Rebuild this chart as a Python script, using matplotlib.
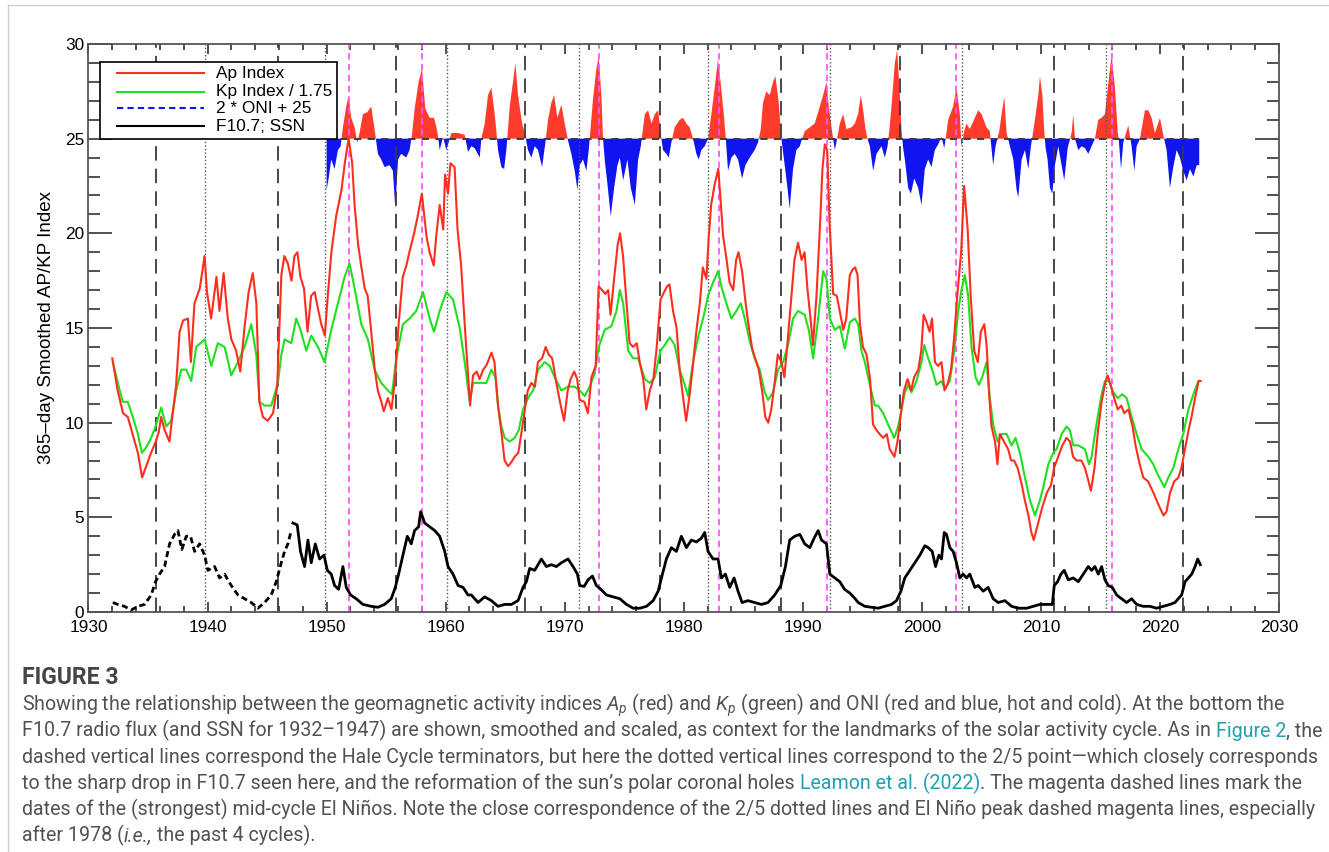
import matplotlib
matplotlib.use("Agg")
import matplotlib.pyplot as plt
from matplotlib import font_manager
from matplotlib.lines import Line2D
from matplotlib.patches import Rectangle
from matplotlib.ticker import MultipleLocator
import numpy as np

# ---- data ----
# Ap index (365-day smoothed)
ap_years = [1932.0, 1932.45, 1932.9, 1933.3, 1933.7, 1934.15, 1934.5, 1934.85, 1935.25, 1935.65,
            1935.9, 1936.1, 1936.4, 1936.8, 1937.0, 1937.35, 1937.65, 1937.95, 1938.35, 1938.6,
            1938.9, 1939.35, 1939.75, 1939.95, 1940.3, 1940.75, 1941.0, 1941.35, 1941.7, 1942.0,
            1942.4, 1942.75, 1943.1, 1943.45, 1943.8, 1944.1, 1944.35, 1944.65, 1945.05, 1945.5,
            1945.85, 1946.2, 1946.45, 1946.75, 1947.05, 1947.3, 1947.55, 1947.8, 1948.1, 1948.4,
            1948.7, 1949.0, 1949.25, 1949.55, 1949.85, 1950.1, 1950.4, 1950.8, 1951.25, 1951.55,
            1951.85, 1952.15, 1952.35, 1952.65, 1952.9, 1953.2, 1953.45, 1953.75, 1954.05, 1954.3,
            1954.6, 1954.8, 1955.15, 1955.45, 1955.75, 1956.05, 1956.4, 1956.7, 1956.95, 1957.35,
            1957.65, 1958.0, 1958.4, 1958.65, 1959.0, 1959.2, 1959.5, 1959.8, 1959.95, 1960.2,
            1960.4, 1960.75, 1961.0, 1961.3, 1961.6, 1961.85, 1962.05, 1962.3, 1962.6, 1962.85,
            1963.15, 1963.4, 1963.85, 1964.1, 1964.4, 1964.7, 1964.95, 1965.25, 1965.5, 1965.8,
            1966.1, 1966.35, 1966.7, 1966.9, 1967.2, 1967.5, 1967.75, 1968.1, 1968.4, 1968.65,
            1968.95, 1969.3, 1969.6, 1969.95, 1970.25, 1970.5, 1970.8, 1971.05, 1971.25, 1971.65,
            1971.95, 1972.25, 1972.6, 1972.85, 1973.15, 1973.4, 1973.65, 1973.85, 1974.15, 1974.45,
            1974.65, 1974.9, 1975.2, 1975.45, 1975.75, 1976.05, 1976.3, 1976.6, 1976.85, 1977.15,
            1977.45, 1977.7, 1978.05, 1978.35, 1978.6, 1978.8, 1979.1, 1979.4, 1979.65, 1979.95,
            1980.2, 1980.5, 1980.8, 1981.05, 1981.35, 1981.6, 1981.9, 1982.1, 1982.3, 1982.6,
            1982.9, 1983.1, 1983.3, 1983.6, 1983.85, 1984.15, 1984.4, 1984.6, 1984.9, 1985.2,
            1985.45, 1985.75, 1986.0, 1986.3, 1986.6, 1986.85, 1987.1, 1987.35, 1987.65, 1987.9,
            1988.2, 1988.45, 1988.7, 1989.05, 1989.3, 1989.6, 1989.9, 1990.15, 1990.4, 1990.65,
            1990.85, 1991.15, 1991.45, 1991.65, 1991.85, 1992.05, 1992.25, 1992.55, 1992.85, 1993.1,
            1993.4, 1993.65, 1993.95, 1994.2, 1994.4, 1994.6, 1994.8, 1995.05, 1995.35, 1995.65,
            1995.9, 1996.2, 1996.45, 1996.75, 1997.05, 1997.3, 1997.7, 1997.95, 1998.25, 1998.5,
            1998.8, 1999.1, 1999.35, 1999.7, 1999.95, 2000.15, 2000.4, 2000.65, 2000.85, 2001.1,
            2001.35, 2001.65, 2001.9, 2002.15, 2002.45, 2002.7, 2003.0, 2003.3, 2003.55, 2003.85,
            2004.1, 2004.4, 2004.7, 2004.95, 2005.25, 2005.45, 2005.65, 2005.85, 2006.15, 2006.35,
            2006.55, 2006.9, 2007.25, 2007.5, 2007.75, 2008.05, 2008.4, 2008.65, 2008.95, 2009.2,
            2009.4, 2009.65, 2010.1, 2010.5, 2010.85, 2011.1, 2011.45, 2011.8, 2012.15, 2012.45,
            2012.7, 2013.0, 2013.4, 2013.7, 2014.0, 2014.2, 2014.5, 2014.8, 2015.1, 2015.4,
            2015.6, 2015.9, 2016.15, 2016.45, 2016.75, 2017.0, 2017.35, 2017.7, 2017.95, 2018.3,
            2018.6, 2019.0, 2019.45, 2019.85, 2020.3, 2020.55, 2020.85, 2021.2, 2021.55, 2021.8,
            2022.1, 2022.4, 2022.65, 2022.95, 2023.25, 2023.4]
ap_vals = [13.4, 11.7, 10.5, 10.3, 9.4, 8.4, 7.1, 7.7, 8.4, 9.0,
           9.5, 10.3, 9.6, 9.0, 10.1, 11.9, 14.8, 15.4, 15.5, 13.2,
           16.3, 17.1, 18.8, 16.9, 15.5, 17.7, 15.9, 17.9, 15.5, 14.4,
           13.8, 12.7, 15.0, 16.9, 17.9, 16.3, 11.1, 10.3, 10.1, 10.5,
           11.9, 17.8, 18.8, 18.4, 17.5, 18.8, 19.0, 17.7, 17.1, 14.8,
           16.7, 16.9, 16.1, 15.2, 14.6, 16.7, 19.0, 20.9, 22.3, 23.8,
           25.0, 23.7, 21.5, 19.4, 18.3, 17.1, 16.7, 14.8, 12.8, 11.7,
           11.1, 10.6, 11.3, 10.7, 12.3, 15.2, 17.7, 18.3, 19.0, 20.0,
           20.9, 22.1, 19.8, 19.0, 18.3, 19.8, 21.5, 20.2, 23.1, 22.1,
           23.7, 23.5, 20.2, 18.3, 15.2, 12.8, 10.9, 12.5, 12.7, 12.3,
           12.8, 13.0, 13.7, 13.2, 10.9, 9.4, 8.0, 7.7, 7.9, 8.2,
           8.4, 9.4, 10.9, 11.7, 12.1, 11.9, 13.2, 13.4, 14.0, 13.6,
           13.4, 12.1, 11.1, 10.1, 11.7, 12.3, 12.7, 12.3, 11.2, 11.1,
           10.5, 12.4, 13.0, 17.2, 17.0, 16.8, 17.0, 15.7, 17.6, 19.4,
           20.0, 18.8, 16.3, 14.2, 14.0, 14.2, 13.2, 12.3, 10.7, 11.7,
           12.3, 13.8, 16.5, 16.9, 17.2, 17.3, 15.9, 15.0, 12.8, 11.3,
           10.1, 11.5, 13.2, 14.8, 16.3, 18.2, 17.6, 19.8, 21.5, 22.6,
           23.4, 21.7, 19.9, 18.6, 17.4, 17.0, 18.6, 19.0, 18.0, 16.3,
           15.1, 13.9, 13.4, 12.8, 11.6, 10.3, 10.0, 10.7, 12.2, 13.6,
           13.2, 12.4, 14.1, 16.7, 18.6, 19.5, 18.6, 19.0, 17.0, 15.5,
           14.1, 16.7, 20.5, 23.4, 24.7, 24.4, 20.5, 16.8, 16.7, 15.9,
           14.9, 15.5, 17.8, 18.1, 18.2, 17.8, 15.2, 14.0, 13.6, 12.3,
           9.9, 9.6, 9.4, 9.2, 9.4, 8.6, 8.2, 9.0, 10.5, 11.7,
           12.3, 11.7, 12.4, 12.8, 13.8, 15.7, 15.3, 14.8, 15.5, 13.2,
           13.0, 13.2, 11.7, 12.0, 12.8, 14.4, 16.9, 19.0, 22.5, 20.2,
           16.7, 13.8, 13.2, 14.8, 15.2, 14.0, 11.5, 9.8, 9.0, 7.8,
           9.4, 9.0, 8.6, 8.0, 8.0, 7.6, 6.7, 5.9, 5.1, 4.2,
           3.8, 4.4, 5.5, 6.3, 6.7, 7.6, 8.2, 8.8, 9.2, 9.0,
           8.2, 8.0, 8.0, 7.6, 6.9, 6.4, 7.6, 9.6, 11.1, 12.1,
           12.5, 11.9, 11.3, 10.7, 10.9, 10.5, 10.7, 9.8, 8.8, 7.8,
           7.1, 6.9, 6.3, 5.7, 5.1, 5.3, 6.3, 6.9, 7.1, 7.6,
           8.6, 9.6, 10.3, 11.3, 12.2, 12.2]

# Kp index / 1.75
kp_years = [1932.04, 1932.46, 1932.88, 1933.3, 1933.72, 1934.15, 1934.48, 1934.85, 1935.27, 1935.63,
            1936.11, 1936.53, 1936.95, 1937.37, 1937.79, 1938.21, 1938.63, 1939.05, 1939.75, 1940.31,
            1940.87, 1941.43, 1941.99, 1942.55, 1943.11, 1943.67, 1944.09, 1944.37, 1944.79, 1945.35,
            1945.91, 1946.2, 1946.47, 1947.03, 1947.45, 1947.81, 1948.29, 1948.71, 1949.27, 1949.83,
            1950.39, 1950.95, 1951.51, 1951.93, 1952.35, 1952.91, 1953.47, 1954.03, 1954.59, 1955.15,
            1955.49, 1955.85, 1956.41, 1956.97, 1957.53, 1958.1, 1958.66, 1959.02, 1959.5, 1960.06,
            1960.62, 1961.18, 1961.6, 1962.02, 1962.3, 1962.86, 1963.42, 1963.84, 1964.18, 1964.4,
            1964.68, 1964.96, 1965.38, 1965.8, 1966.14, 1966.5, 1966.92, 1967.34, 1967.76, 1968.32,
            1968.74, 1969.16, 1969.72, 1970.28, 1970.84, 1971.26, 1971.68, 1972.1, 1972.52, 1972.86,
            1973.36, 1973.92, 1974.35, 1974.63, 1974.91, 1975.33, 1975.75, 1976.17, 1976.73, 1977.15,
            1977.57, 1978.04, 1978.4, 1978.82, 1979.24, 1979.66, 1980.08, 1980.36, 1980.78, 1981.2,
            1981.62, 1982.04, 1982.46, 1982.88, 1983.16, 1983.58, 1984.0, 1984.42, 1984.79, 1985.12,
            1985.54, 1985.96, 1986.38, 1986.8, 1987.08, 1987.5, 1987.92, 1988.34, 1988.76, 1989.18,
            1989.6, 1990.16, 1990.5, 1990.87, 1991.29, 1991.71, 1991.99, 1992.27, 1992.69, 1993.11,
            1993.53, 1993.95, 1994.37, 1994.65, 1994.93, 1995.21, 1995.63, 1996.05, 1996.33, 1996.75,
            1997.17, 1997.68, 1998.01, 1998.29, 1998.57, 1998.85, 1999.13, 1999.55, 1999.97, 2000.2,
            2000.53, 2000.87, 2001.23, 2001.65, 2001.93, 2002.35, 2002.72, 2003.05, 2003.33, 2003.61,
            2003.89, 2004.17, 2004.51, 2004.79, 2005.07, 2005.43, 2005.71, 2005.99, 2006.36, 2006.7,
            2007.12, 2007.54, 2007.87, 2008.24, 2008.66, 2009.08, 2009.5, 2009.92, 2010.2, 2010.62,
            2011.04, 2011.32, 2011.74, 2012.16, 2012.44, 2012.72, 2013.14, 2013.7, 2014.04, 2014.26,
            2014.54, 2014.82, 2015.1, 2015.38, 2015.72, 2016.08, 2016.45, 2016.84, 2017.2, 2017.62,
            2018.04, 2018.46, 2019.02, 2019.44, 2019.86, 2020.37, 2020.7, 2021.12, 2021.54, 2021.96,
            2022.39, 2022.81, 2023.23, 2023.4]
kp_vals = [13.2, 12.1, 11.1, 11.1, 10.3, 9.4, 8.4, 8.7, 9.2, 9.8,
           10.8, 9.8, 10.1, 11.7, 12.8, 12.8, 12.2, 14.0, 14.4, 13.0,
           14.2, 14.0, 12.5, 13.2, 14.0, 15.2, 13.6, 11.1, 10.9, 10.9,
           12.1, 13.6, 14.4, 14.2, 15.5, 14.9, 13.8, 14.6, 14.0, 13.2,
           14.9, 16.3, 17.7, 18.4, 17.1, 15.2, 14.4, 12.8, 12.1, 11.7,
           11.5, 13.4, 15.2, 15.5, 15.9, 16.9, 15.5, 14.8, 15.9, 16.9,
           16.5, 15.0, 13.2, 11.1, 12.1, 12.1, 12.1, 12.8, 12.4, 10.9,
           9.8, 9.2, 9.0, 9.2, 9.6, 10.7, 11.3, 11.7, 12.8, 13.2,
           13.0, 12.4, 11.7, 11.9, 11.9, 11.7, 11.4, 11.9, 12.6, 14.0,
           14.9, 15.1, 15.9, 17.0, 16.3, 13.8, 13.4, 13.4, 12.3, 12.1,
           12.4, 13.8, 14.1, 14.5, 14.1, 12.8, 12.0, 11.4, 13.2, 14.5,
           15.5, 16.7, 17.4, 18.0, 17.2, 16.3, 15.5, 15.9, 16.3, 15.5,
           14.3, 13.4, 12.8, 11.6, 11.2, 11.6, 12.8, 13.2, 14.1, 15.5,
           15.9, 15.7, 14.9, 13.4, 15.5, 18.0, 17.6, 15.5, 14.9, 15.1,
           13.9, 15.3, 15.5, 15.2, 13.8, 13.2, 12.0, 10.9, 10.9, 10.5,
           9.9, 9.2, 9.8, 10.7, 11.6, 12.0, 11.6, 12.2, 13.2, 14.1,
           13.4, 12.8, 12.0, 12.2, 11.8, 12.2, 13.8, 15.9, 17.0, 17.8,
           16.7, 14.0, 12.4, 12.0, 12.4, 13.2, 11.3, 9.9, 9.0, 9.4,
           9.4, 8.8, 9.2, 8.4, 7.1, 5.9, 5.1, 5.9, 6.6, 7.8,
           8.4, 8.6, 9.4, 9.8, 9.6, 8.8, 8.8, 8.6, 7.8, 8.2,
           9.4, 10.5, 11.5, 12.2, 12.2, 11.6, 11.3, 11.5, 11.3, 10.3,
           9.4, 8.6, 8.2, 7.8, 7.2, 6.6, 7.1, 7.6, 8.6, 9.4,
           10.7, 11.5, 12.2, 12.2]

# smoothed sunspot number (scaled), 1932-1947
ssn_years = [1932.04, 1932.46, 1933.02, 1933.58, 1934.15, 1934.71, 1935.27, 1935.63, 1935.97, 1936.39,
             1936.81, 1937.23, 1937.51, 1937.84, 1938.21, 1938.57, 1938.91, 1939.33, 1939.75, 1940.03,
             1940.59, 1941.01, 1941.43, 1941.99, 1942.55, 1943.11, 1943.67, 1944.23, 1944.79, 1945.35,
             1945.77, 1946.19, 1946.47, 1946.75, 1947.03]
ssn_vals = [0.5, 0.4, 0.3, 0.1, 0.3, 0.4, 0.9, 1.6, 2.0, 2.4,
            3.6, 4.1, 4.3, 3.3, 4.0, 4.0, 3.2, 3.6, 3.0, 2.2,
            2.4, 1.8, 2.0, 1.4, 0.9, 0.7, 0.5, 0.2, 0.5, 0.9,
            1.6, 2.6, 3.2, 3.6, 4.3]

# smoothed F10.7 radio flux (scaled), 1947 onward
f107_years = [1947.17, 1947.53, 1947.81, 1948.15, 1948.43, 1948.71, 1949.05, 1949.41, 1949.78, 1950.06,
              1950.39, 1950.67, 1951.01, 1951.37, 1951.65, 1952.02, 1952.49, 1953.05, 1953.75, 1954.31,
              1954.87, 1955.43, 1955.77, 1956.05, 1956.41, 1956.78, 1957.11, 1957.39, 1957.73, 1957.9,
              1958.24, 1958.66, 1959.08, 1959.5, 1959.92, 1960.2, 1960.62, 1961.04, 1961.46, 1961.88,
              1962.16, 1962.72, 1963.28, 1963.84, 1964.4, 1964.96, 1965.52, 1966.08, 1966.5, 1966.78,
              1967.06, 1967.48, 1968.04, 1968.46, 1968.88, 1969.3, 1969.72, 1970.28, 1970.7, 1971.07,
              1971.26, 1971.63, 1971.96, 1972.33, 1972.66, 1973.03, 1973.5, 1974.07, 1974.63, 1975.19,
              1975.75, 1976.31, 1976.87, 1977.43, 1977.85, 1978.13, 1978.54, 1978.96, 1979.38, 1979.8,
              1980.22, 1980.64, 1981.06, 1981.48, 1981.76, 1982.04, 1982.46, 1982.88, 1983.16, 1983.5,
              1983.86, 1984.23, 1984.56, 1984.9, 1985.4, 1985.96, 1986.52, 1987.08, 1987.64, 1988.15,
              1988.54, 1988.9, 1989.32, 1989.75, 1990.16, 1990.59, 1990.95, 1991.29, 1991.57, 1991.99,
              1992.27, 1992.69, 1993.11, 1993.5, 1993.95, 1994.4, 1994.65, 1995.21, 1995.77, 1996.33,
              1996.89, 1997.45, 1997.87, 1998.24, 1998.57, 1998.99, 1999.41, 1999.83, 2000.25, 2000.53,
              2000.87, 2001.15, 2001.43, 2001.65, 2001.88, 2002.07, 2002.35, 2002.63, 2002.91, 2003.19,
              2003.47, 2003.75, 2004.03, 2004.45, 2004.73, 2005.15, 2005.57, 2005.99, 2006.41, 2006.98,
              2007.54, 2008.1, 2008.8, 2009.36, 2009.92, 2010.6, 2010.96, 2011.12, 2011.4, 2011.68,
              2011.96, 2012.3, 2012.72, 2013.14, 2013.56, 2013.98, 2014.26, 2014.54, 2014.82, 2015.1,
              2015.38, 2015.66, 2016.0, 2016.36, 2016.78, 2017.2, 2017.62, 2018.04, 2018.6, 2019.16,
              2019.72, 2020.28, 2020.84, 2021.26, 2021.82, 2022.11, 2022.39, 2022.67, 2022.95, 2023.17,
              2023.39]
f107_vals = [4.7, 4.6, 3.2, 2.4, 3.8, 2.6, 3.6, 2.8, 3.0, 2.2,
             2.0, 1.4, 1.2, 2.4, 1.3, 0.9, 0.7, 0.4, 0.3, 0.25,
             0.4, 0.7, 1.3, 2.0, 3.0, 4.0, 3.6, 4.3, 4.5, 5.3,
             4.7, 4.5, 4.3, 4.0, 3.2, 2.4, 2.0, 1.4, 1.3, 0.9,
             0.9, 0.5, 0.8, 0.6, 0.3, 0.4, 0.4, 0.6, 1.3, 1.6,
             2.3, 2.2, 2.8, 2.4, 2.5, 2.4, 2.6, 2.8, 2.4, 2.0,
             1.4, 1.35, 1.7, 1.9, 1.4, 1.2, 0.9, 0.8, 0.7, 0.4,
             0.2, 0.2, 0.3, 0.6, 1.1, 1.8, 2.8, 3.4, 3.2, 4.0,
             3.4, 3.8, 3.7, 3.9, 4.2, 3.2, 2.8, 2.8, 1.8, 2.0,
             1.3, 1.8, 1.1, 0.5, 0.6, 0.5, 0.4, 0.5, 0.9, 1.4,
             2.4, 3.8, 4.0, 4.1, 3.6, 3.4, 3.9, 4.3, 3.8, 3.6,
             2.0, 1.8, 1.6, 1.2, 1.0, 0.7, 0.5, 0.3, 0.25, 0.2,
             0.3, 0.4, 0.6, 1.1, 1.8, 2.2, 2.6, 3.0, 3.5, 3.4,
             3.2, 2.4, 3.0, 2.8, 4.2, 4.1, 3.4, 3.2, 2.6, 1.8,
             2.0, 1.8, 2.0, 1.3, 1.4, 1.1, 1.3, 0.7, 0.5, 0.6,
             0.3, 0.2, 0.2, 0.3, 0.4, 0.4, 0.4, 1.4, 1.6, 2.0,
             2.2, 1.7, 1.8, 1.6, 2.0, 2.4, 2.2, 2.4, 2.0, 2.4,
             1.7, 1.4, 1.3, 0.9, 0.7, 0.5, 0.7, 0.4, 0.3, 0.3,
             0.2, 0.3, 0.4, 0.5, 0.9, 1.6, 1.8, 2.0, 2.4, 2.8,
             2.5]

# Oceanic Nino Index (deg C), plotted as 2*ONI + 25
oni_years = [1950.0, 1950.17, 1950.39, 1950.67, 1950.95, 1951.18, 1951.37, 1951.65, 1951.85, 1952.07,
             1952.35, 1952.58, 1952.77, 1953.05, 1953.42, 1953.75, 1954.03, 1954.31, 1954.59, 1954.87,
             1955.29, 1955.57, 1955.77, 1956.0, 1956.27, 1956.69, 1956.97, 1957.17, 1957.4, 1957.73,
             1958.01, 1958.29, 1958.66, 1959.02, 1959.3, 1959.5, 1959.78, 1960.06, 1960.48, 1961.04,
             1961.6, 1961.88, 1962.16, 1962.44, 1962.86, 1963.0, 1963.28, 1963.56, 1963.84, 1964.12,
             1964.26, 1964.4, 1964.68, 1964.91, 1965.1, 1965.24, 1965.38, 1965.66, 1965.86, 1966.08,
             1966.42, 1966.64, 1966.92, 1967.2, 1967.48, 1967.76, 1968.1, 1968.38, 1968.6, 1968.88,
             1969.11, 1969.39, 1969.72, 1970.0, 1970.28, 1970.56, 1970.84, 1971.07, 1971.26, 1971.54,
             1971.82, 1972.02, 1972.38, 1972.66, 1972.86, 1973.08, 1973.22, 1973.36, 1973.59, 1973.87,
             1974.15, 1974.43, 1974.63, 1974.91, 1975.27, 1975.55, 1975.89, 1976.17, 1976.39, 1976.73,
             1977.01, 1977.29, 1977.57, 1977.85, 1978.12, 1978.26, 1978.54, 1978.74, 1978.96, 1979.24,
             1979.66, 1979.94, 1980.22, 1980.5, 1980.78, 1981.06, 1981.26, 1981.48, 1981.76, 1982.04,
             1982.32, 1982.6, 1982.88, 1983.11, 1983.39, 1983.53, 1983.72, 1984.0, 1984.28, 1984.56,
             1984.9, 1985.18, 1985.54, 1985.96, 1986.24, 1986.47, 1986.66, 1986.94, 1987.22, 1987.5,
             1987.7, 1987.98, 1988.2, 1988.48, 1988.71, 1988.9, 1989.18, 1989.46, 1989.75, 1989.94,
             1990.17, 1990.59, 1991.0, 1991.43, 1991.71, 1991.99, 1992.18, 1992.41, 1992.55, 1992.69,
             1992.88, 1993.11, 1993.39, 1993.67, 1994.09, 1994.37, 1994.65, 1994.87, 1995.07, 1995.27,
             1995.43, 1995.63, 1995.91, 1996.19, 1996.61, 1996.89, 1997.12, 1997.28, 1997.45, 1997.73,
             1997.93, 1998.15, 1998.29, 1998.43, 1998.57, 1998.85, 1999.08, 1999.36, 1999.69, 1999.97,
             2000.25, 2000.53, 2000.81, 2001.09, 2001.37, 2001.65, 2001.88, 2002.07, 2002.21, 2002.63,
             2002.91, 2003.19, 2003.33, 2003.56, 2003.75, 2004.03, 2004.45, 2004.73, 2005.01, 2005.43,
             2005.71, 2005.99, 2006.19, 2006.5, 2006.7, 2006.92, 2007.12, 2007.4, 2007.68, 2007.96,
             2008.1, 2008.38, 2008.66, 2008.94, 2009.16, 2009.5, 2009.78, 2009.92, 2010.12, 2010.28,
             2010.4, 2010.56, 2010.76, 2010.96, 2011.18, 2011.46, 2011.74, 2011.96, 2012.25, 2012.58,
             2012.72, 2012.86, 2013.14, 2013.42, 2013.7, 2013.98, 2014.26, 2014.54, 2014.82, 2015.1,
             2015.38, 2015.66, 2015.94, 2016.22, 2016.45, 2016.56, 2016.73, 2016.92, 2017.34, 2017.62,
             2017.85, 2018.04, 2018.32, 2018.74, 2019.02, 2019.3, 2019.58, 2020.0, 2020.28, 2020.56,
             2020.84, 2021.12, 2021.4, 2021.68, 2021.96, 2022.24, 2022.52, 2022.81, 2023.09, 2023.3]
oni_vals = [-1.35, -1.05, -0.55, -0.8, -0.3, -0.2, 0.3, 0.85, 1.15, 0.55,
            0.3, -0.1, 0.15, 0.65, 0.7, 0.85, 0.25, -0.4, -0.55, -0.75,
            -0.7, -0.85, -1.85, -0.55, -0.4, -0.5, -0.3, 0.1, 0.8, 1.5,
            1.85, 0.8, 0.55, 0.55, 0.2, -0.3, 0.05, -0.3, 0.15, 0.15,
            0.1, -0.35, -0.2, -0.25, -0.5, 0.0, 0.4, 1.15, 1.35, 0.65,
            0.2, -0.3, -0.75, -0.8, -0.3, 0.25, 0.85, 1.5, 2.0, 1.15,
            0.4, 0.15, -0.3, -0.5, -0.2, -0.3, -0.75, -0.1, 0.5, 0.95,
            1.15, 0.55, 0.9, 0.4, -0.05, -0.4, -0.85, -1.35, -0.7, -0.55,
            -0.85, -0.3, 1.05, 1.85, 2.15, 1.15, 0.0, -0.55, -1.2, -2.05,
            -1.3, -0.7, -0.5, -1.1, -0.55, -1.3, -1.75, -0.55, -0.2, 0.65,
            0.75, 0.4, 0.65, 0.75, 0.0, -0.3, -0.4, -0.5, -0.1, 0.3,
            0.5, 0.55, 0.4, 0.3, 0.0, -0.4, -0.55, -0.3, -0.2, 0.0,
            0.65, 1.35, 2.1, 1.45, 0.55, 0.0, -0.85, -0.5, -0.4, -0.55,
            -1.05, -0.7, -0.5, -0.3, -0.1, 0.25, 0.95, 1.25, 1.15, 1.5,
            1.65, 0.95, 0.0, -0.7, -1.3, -1.85, -0.8, -0.3, -0.2, 0.0,
            0.2, 0.3, 0.4, 0.85, 1.15, 1.5, 0.85, 0.3, 0.0, -0.3,
            0.0, 0.4, 0.65, 0.25, 0.3, 0.4, 0.65, 1.15, 0.75, 0.25,
            0.0, -0.2, -0.85, -0.4, -0.2, -0.5, -0.2, 0.25, 0.85, 2.0,
            2.35, 1.15, 0.25, -0.25, -0.55, -1.3, -1.45, -1.05, -1.3, -1.75,
            -0.8, -0.55, -0.75, -0.3, -0.15, 0.05, -0.25, 0.15, 0.5, 0.85,
            1.35, 0.65, -0.2, 0.2, 0.4, 0.25, 0.55, 0.75, 0.65, 0.3,
            0.2, -0.7, -0.2, 0.2, 0.65, 1.1, 0.15, -0.2, -0.55, -1.35,
            -1.55, -0.55, -0.3, -0.8, -0.2, 0.5, 1.15, 1.65, 1.15, 0.2,
            -0.25, -0.55, -1.3, -1.45, -0.7, -0.2, -0.7, -1.1, -0.25, 0.15,
            0.65, 0.0, -0.3, -0.2, -0.25, -0.4, -0.2, 0.0, 0.5, 0.55,
            0.65, 1.45, 2.2, 1.35, 0.2, -0.1, -0.8, -0.1, 0.35, -0.2,
            -0.85, -0.2, 0.0, 0.75, 0.75, 0.55, 0.15, 0.55, 0.1, -0.3,
            -1.3, -0.75, -0.3, -0.5, -0.85, -1.1, -0.8, -1.0, -0.7, -0.7]

# cycle landmarks
hale_terminators = [1935.65, 1945.9, 1955.8, 1966.7, 1978.0, 1988.2, 1998.2, 2011.1, 2021.95]
two_fifth_points = [1939.75, 1949.9, 1960.1, 1971.2, 1982.05, 1992.25, 2003.4, 2015.45]
el_nino_peaks = [1951.85, 1958.0, 1972.9, 1983.0, 1992.05, 2002.9, 2016.0]

legend_labels = ["Ap Index", "Kp Index / 1.75", "2 * ONI + 25", "F10.7; SSN"]

caption_title = "FIGURE 3"
caption_lines = [
    [("Showing the relationship between the geomagnetic activity indices $A_p$ (red) and $K_p$ "
      "(green) and ONI (red and blue, hot and cold). At the bottom the", "text")],
    [("F10.7 radio flux (and SSN for 1932\u20131947) are shown, smoothed and scaled, as context for "
      "the landmarks of the solar activity cycle. As in ", "text"), ("Figure 2", "link"), (", the", "text")],
    [("dashed vertical lines correspond the Hale Cycle terminators, but here the dotted vertical "
      "lines correspond to the 2/5 point\u2014which closely corresponds", "text")],
    [("to the sharp drop in F10.7 seen here, and the reformation of the sun\u2019s polar coronal holes ",
      "text"), ("Leamon et al. (2022)", "link"), (". The magenta dashed lines mark the", "text")],
    [("dates of the (strongest) mid-cycle El Ni\u00f1os. Note the close correspondence of the 2/5 "
      "dotted lines and El Ni\u00f1o peak dashed magenta lines, especially", "text")],
    [("after 1978 (", "text"), ("i.e.,", "ital"), (" the past 4 cycles).", "text")],
]

# ---- style ----
W, H = 1329, 852
names = {f.name for f in font_manager.fontManager.ttflist}
cap_font = "Liberation Sans Narrow" if "Liberation Sans Narrow" in names else "Roboto"

plt.rcParams["font.family"] = "Liberation Sans"
plt.rcParams["mathtext.fontset"] = "custom"
plt.rcParams["mathtext.rm"] = cap_font
plt.rcParams["mathtext.it"] = cap_font + ":italic"

RED = "#ff2d1e"
GREEN = "#1fe01f"
BLUE = "#0f14f0"

fig = plt.figure(figsize=(W / 100, H / 100), dpi=100)
ax = fig.add_axes([88.5 / W, 1 - 612 / H, (1279 - 88.5) / W, 568 / H])

# ONI bars around 25
oni_y = 25 + 2 * np.array(oni_vals)
ax.fill_between(oni_years, 25, oni_y, where=oni_y >= 25, interpolate=True,
                color="#ff3b2b", lw=0, zorder=1)
ax.fill_between(oni_years, 25, oni_y, where=oni_y <= 25, interpolate=True,
                color=BLUE, lw=0, zorder=1)
ax.plot([oni_years[0], oni_years[-1]], [25, 25], color="#333333", lw=1.3,
        dashes=(4, 3.5), zorder=2)

# vertical landmark lines
for x in hale_terminators:
    ax.axvline(x, color="#3a3a3a", lw=1.3, dashes=(8, 4.5), zorder=2)
for x in two_fifth_points:
    ax.axvline(x, color="#555555", lw=1.0, dashes=(1, 1.6), zorder=2)
for x in el_nino_peaks:
    ax.axvline(x, color="#ff55ff", lw=1.3, dashes=(3.5, 2.5), zorder=2)

# curves
ax.plot(ssn_years, ssn_vals, color="black", lw=2, dashes=(2.2, 1.3), zorder=3)
ax.plot(f107_years, f107_vals, color="black", lw=2, zorder=3)
ax.plot(kp_years, kp_vals, color=GREEN, lw=1.5, zorder=3)
ax.plot(ap_years, ap_vals, color=RED, lw=1.5, zorder=4)

ax.set_xlim(1930, 2030)
ax.set_ylim(0, 30)
ax.xaxis.set_major_locator(MultipleLocator(10))
ax.xaxis.set_minor_locator(MultipleLocator(2))
ax.yaxis.set_major_locator(MultipleLocator(5))
ax.yaxis.set_minor_locator(MultipleLocator(1))
ax.tick_params(which="both", direction="in", top=True, right=True, width=1.1,
               labelsize=12.4, color="#222222")
ax.tick_params(axis="x", which="major", length=7.5, pad=6)
ax.tick_params(axis="x", which="minor", length=4)
ax.tick_params(axis="y", which="major", length=17, pad=3)
ax.tick_params(axis="y", which="minor", length=8.6)
for s in ax.spines.values():
    s.set_color("#555555")
    s.set_linewidth(1.3)

fig.text(47 / W, 1 - 328 / H, "365\u2013day Smoothed AP/KP Index", rotation=90,
         ha="center", va="center", fontsize=13.5)

# legend box (drawn by hand to match the IDL layout)
ax.add_patch(Rectangle((0.0097, 0.8327), 0.1988, 0.1361, transform=ax.transAxes,
                       facecolor="white", edgecolor="black", lw=1.2, zorder=10))
leg_styles = [dict(color=RED), dict(color=GREEN), dict(color=BLUE, dashes=(3, 2)),
              dict(color="black")]
for lab, st, yy in zip(legend_labels, leg_styles, [0.9484, 0.9160, 0.8868, 0.8556]):
    ax.plot([0.0237, 0.0970], [yy, yy], transform=ax.transAxes, lw=1.5, zorder=11, **st)
    ax.text(0.1071, yy, lab, transform=ax.transAxes, fontsize=12.4, va="center",
            ha="left", zorder=11)

# page frame lines
fig.add_artist(Line2D([7.5 / W, 7.5 / W], [0, 1 - 5 / H], color="#cfcfcf", lw=1))
fig.add_artist(Line2D([7.5 / W, 1], [1 - 5 / H, 1 - 5 / H], color="#cfcfcf", lw=1))

# ---- caption ----
renderer = fig.canvas.get_renderer()


def text_width(s, size, **kw):
    t = fig.text(0, 0, s, fontsize=size, family=cap_font, **kw)
    w = t.get_window_extent(renderer).width
    t.remove()
    return w


line3 = caption_lines[2][0][0]
cap_size = 10 * 1295 / text_width(line3, 10)
cap_size = cap_size * 1295 / text_width(line3, cap_size)
title_size = 10 * 96 / text_width(caption_title, 10, weight="bold")

fig.text(22 / W, 1 - 684 / H, caption_title, fontsize=title_size, family=cap_font,
         weight="bold", color="#454545", va="baseline")

colors = {"text": "#525252", "link": "#1ea0b5", "ital": "#525252"}
bar_w = text_width("|", cap_size)
for i, segs in enumerate(caption_lines):
    yb = 1 - (710.5 + 26.2 * i) / H
    x = 22
    for txt, kind in segs:
        style = "italic" if kind == "ital" else "normal"
        fig.text(x / W, yb, txt, fontsize=cap_size, family=cap_font,
                 color=colors[kind], va="baseline", style=style)
        # advance by the width of this segment (trailing spaces kept via the bar)
        x += text_width(txt + "|", cap_size, style=style) - bar_w

fig.savefig("out.png", dpi=100)
